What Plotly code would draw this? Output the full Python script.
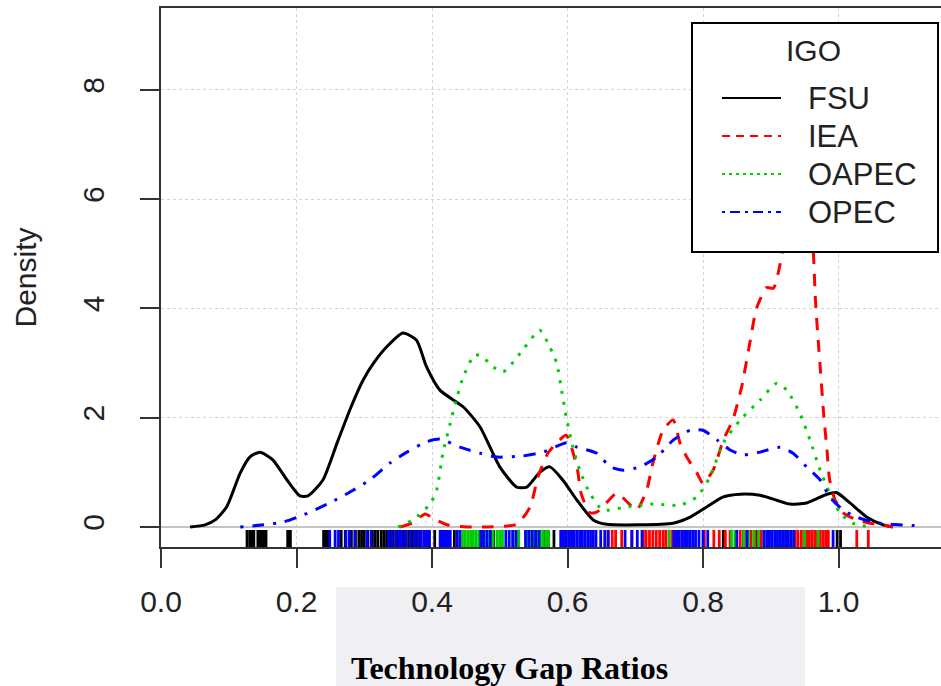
import plotly.graph_objects as go

# ---- density curves ----
fsu_x = [0.043, 0.065, 0.08, 0.097, 0.117, 0.131, 0.146, 0.165, 0.186, 0.205, 0.217, 0.239, 0.26, 0.279,
         0.298, 0.315, 0.335, 0.357, 0.377, 0.392, 0.412, 0.446, 0.471, 0.5, 0.525, 0.54, 0.559, 0.574,
         0.593, 0.614, 0.638, 0.658, 0.756, 0.781, 0.806, 0.83, 0.855, 0.884, 0.909, 0.928, 0.953, 0.983,
         0.997, 1.017, 1.042, 1.066, 1.08]
fsu_y = [0.0, 0.04, 0.13, 0.37, 0.99, 1.28, 1.37, 1.23, 0.86, 0.57, 0.57, 0.86, 1.54, 2.15,
         2.68, 3.02, 3.32, 3.55, 3.42, 2.93, 2.5, 2.2, 1.83, 1.1, 0.73, 0.73, 1.0, 1.1,
         0.86, 0.49, 0.13, 0.05, 0.07, 0.18, 0.37, 0.55, 0.6, 0.58, 0.49, 0.42, 0.44, 0.6,
         0.63, 0.44, 0.18, 0.04, 0.0]

iea_x = [0.353, 0.372, 0.39, 0.401, 0.422, 0.452, 0.476, 0.525, 0.545, 0.556, 0.571, 0.585, 0.598,
         0.614, 0.62, 0.633, 0.643, 0.658, 0.673, 0.688, 0.702, 0.717, 0.726, 0.741, 0.756, 0.766,
         0.776, 0.791, 0.8, 0.815, 0.83, 0.844, 0.857, 0.869, 0.879, 0.894, 0.904, 0.914, 0.93,
         0.945, 0.955, 0.963, 0.966, 0.97, 0.973, 0.978, 0.983, 0.987, 0.995, 1.007, 1.027, 1.046,
         1.066, 1.08]
iea_y = [0.0, 0.08, 0.24, 0.16, 0.04, 0.0, 0.0, 0.05, 0.37, 0.9, 1.35, 1.55, 1.68,
         1.1, 0.62, 0.26, 0.27, 0.45, 0.62, 0.46, 0.31, 0.68, 1.17, 1.77, 1.96, 1.54,
         1.28, 0.99, 0.8, 1.04, 1.59, 1.96, 2.56, 3.36, 4.0, 4.38, 4.37, 4.82, 6.0,
         6.8, 6.4, 5.0, 4.15, 3.42, 2.93, 2.08, 1.41, 0.86, 0.49, 0.26, 0.13, 0.07,
         0.04, 0.0]

oapec_x = [0.35, 0.372, 0.397, 0.407, 0.416, 0.427, 0.437, 0.446, 0.463, 0.475, 0.49, 0.505, 0.52,
           0.534, 0.559, 0.574, 0.584, 0.592, 0.599, 0.608, 0.618, 0.633, 0.652, 0.688, 0.726, 0.766,
           0.791, 0.81, 0.83, 0.855, 0.884, 0.909, 0.924, 0.943, 0.958, 0.973, 0.987, 1.002, 1.021,
           1.046]
oapec_y = [0.0, 0.13, 0.42, 0.68, 1.35, 1.9, 2.38, 2.74, 3.15, 3.11, 2.93, 2.84, 3.02,
           3.24, 3.6, 3.29, 3.0, 2.45, 1.96, 1.46, 1.04, 0.62, 0.31, 0.37, 0.42, 0.40,
           0.55, 0.91, 1.54, 1.96, 2.32, 2.63, 2.5, 2.08, 1.59, 1.04, 0.62, 0.26, 0.07,
           0.0]

opec_x = [0.117, 0.151, 0.18, 0.21, 0.249, 0.279, 0.308, 0.338, 0.363, 0.392, 0.412, 0.441, 0.471,
          0.496, 0.534, 0.564, 0.599, 0.614, 0.643, 0.663, 0.682, 0.707, 0.732, 0.756, 0.781, 0.8,
          0.821, 0.84, 0.859, 0.884, 0.914, 0.933, 0.953, 0.973, 0.987, 1.007, 1.027, 1.051, 1.076,
          1.125]
opec_y = [0.0, 0.04, 0.09, 0.22, 0.44, 0.64, 0.86, 1.17, 1.37, 1.56, 1.61, 1.46, 1.35,
          1.28, 1.3, 1.37, 1.54, 1.46, 1.35, 1.1, 1.04, 1.1, 1.28, 1.59, 1.77, 1.77,
          1.59, 1.41, 1.32, 1.37, 1.46, 1.35, 1.1, 0.86, 0.55, 0.31, 0.18, 0.09, 0.05,
          0.02]

# ---- rug observations ----
fsu_rug = [0.127, 0.131, 0.134, 0.137, 0.143, 0.146, 0.149, 0.152, 0.155, 0.187, 0.191, 0.240, 0.243,
           0.246, 0.266, 0.272, 0.281, 0.287, 0.292, 0.296, 0.300, 0.305, 0.312, 0.316, 0.320, 0.325,
           0.329, 0.333, 0.338, 0.343, 0.349, 0.353, 0.358, 0.362, 0.366, 0.371, 0.376, 0.383, 0.390,
           0.396, 0.404, 0.413, 0.419, 0.426, 0.433, 0.486, 0.491, 0.565, 0.572, 0.58, 0.83, 0.86,
           0.88, 0.9, 0.95, 0.998, 1.003]
iea_rug = [0.39, 0.596, 0.603, 0.607, 0.66, 0.666, 0.671, 0.68, 0.695, 0.712, 0.716, 0.721, 0.726,
           0.731, 0.736, 0.741, 0.745, 0.75, 0.755, 0.76, 0.764, 0.77, 0.802, 0.816, 0.824, 0.833,
           0.84, 0.848, 0.855, 0.861, 0.866, 0.871, 0.876, 0.881, 0.886, 0.9, 0.92, 0.936, 0.94,
           0.945, 0.949, 0.953, 0.957, 0.961, 0.965, 0.969, 0.973, 0.977, 0.981, 0.985, 1.027, 1.044]
oapec_rug = [0.445, 0.449, 0.453, 0.457, 0.461, 0.465, 0.469, 0.473, 0.477, 0.481, 0.485, 0.49, 0.496,
             0.5, 0.504, 0.52, 0.524, 0.528, 0.54, 0.544, 0.548, 0.552, 0.556, 0.56, 0.564, 0.568,
             0.572, 0.6, 0.75, 0.78, 0.842, 0.847, 0.86, 0.867, 0.875, 0.882, 0.9, 0.908, 0.915,
             0.922, 0.93, 0.95, 0.97]
opec_rug = [0.249, 0.257, 0.262, 0.273, 0.278, 0.286, 0.304, 0.31, 0.336, 0.341, 0.347, 0.352, 0.356,
            0.361, 0.368, 0.374, 0.379, 0.384, 0.388, 0.392, 0.396, 0.412, 0.415, 0.418, 0.421, 0.424,
            0.427, 0.437, 0.441, 0.472, 0.476, 0.481, 0.486, 0.509, 0.514, 0.519, 0.524, 0.538, 0.543,
            0.548, 0.553, 0.558, 0.59, 0.594, 0.598, 0.602, 0.606, 0.61, 0.614, 0.618, 0.622, 0.626,
            0.63, 0.634, 0.638, 0.642, 0.649, 0.655, 0.66, 0.685, 0.695, 0.703, 0.71, 0.757, 0.761,
            0.765, 0.769, 0.773, 0.777, 0.781, 0.785, 0.789, 0.794, 0.8, 0.807, 0.85, 0.865, 0.89,
            0.894, 0.898, 0.902, 0.906, 0.91, 0.914, 0.918, 0.922, 0.926, 0.93, 0.934, 0.992]

groups = ["FSU", "IEA", "OAPEC", "OPEC"]
colors = ["#000000", "#FF0000", "#00CD00", "#0000FF"]
dashes = ["solid", "12px,10px", "3px,8px", "3px,9px,12px,9px"]
legend_dashes = ["solid", "8px,6px", "3px,4px", "3px,5px,10px,5px"]
x_ticks = [0.0, 0.2, 0.4, 0.6, 0.8, 1.0]
x_ticktext = ["0.0", "0.2", "0.4", "0.6", "0.8", "1.0"]
y_ticks = [0, 2, 4, 6, 8]

curves_x = [fsu_x, iea_x, oapec_x, opec_x]
curves_y = [fsu_y, iea_y, oapec_y, opec_y]
rugs = [fsu_rug, iea_rug, oapec_rug, opec_rug]

Y_MIN, Y_MAX = -0.366, 9.497
RUG_TOP = -0.055

# plot-area geometry in pixels (used to place the legend box and captions)
L, T, W, H = 161, 8, 780, 539


def px(x):
    return (x - L) / W


def py(y):
    return (T + H - y) / H


fig = go.Figure()

# rugs
for g, c, r in zip(groups, colors, rugs):
    rx, ry = [], []
    for v in r:
        rx += [v, v, None]
        ry += [RUG_TOP, Y_MIN, None]
    fig.add_trace(go.Scatter(x=rx, y=ry, mode="lines", line=dict(color=c, width=2.8),
                             showlegend=False, hoverinfo="skip", name=g + " rug"))

# density curves
for g, c, d, xs, ys in zip(groups, colors, dashes, curves_x, curves_y):
    fig.add_trace(go.Scatter(x=xs, y=ys, mode="lines", name=g, showlegend=False,
                             line=dict(color=c, width=3, dash=d, shape="spline", smoothing=0.6)))

font_sans = "Liberation Sans, Arial, sans-serif"

shapes = [dict(type="rect", xref="paper", yref="paper",
               x0=px(336), x1=px(805), y0=py(690), y1=py(587),
               fillcolor="#EFEFF4", line=dict(width=0), layer="below"),
          # legend box
          dict(type="rect", xref="paper", yref="paper",
               x0=px(692), x1=px(938), y0=py(252), y1=py(23),
               fillcolor="white", line=dict(color="black", width=2), layer="above")]

annotations = [dict(text="<b>Technology Gap Ratios</b>", xref="paper", yref="paper",
                    x=px(509), y=py(668), xanchor="center", yanchor="middle", showarrow=False,
                    font=dict(family="Liberation Serif, Times New Roman, serif", size=32,
                              color="#000000")),
               dict(text="IGO", xref="paper", yref="paper", x=px(813), y=py(50),
                    xanchor="center", yanchor="middle", showarrow=False,
                    font=dict(family=font_sans, size=30, color="#222222"))]

row_y = [98, 136, 174, 212]
for g, c, d, ry in zip(groups, colors, legend_dashes, row_y):
    shapes.append(dict(type="line", xref="paper", yref="paper",
                       x0=px(722), x1=px(781), y0=py(ry), y1=py(ry),
                       line=dict(color=c, width=2, dash=d), layer="above"))
    annotations.append(dict(text=g, xref="paper", yref="paper", x=px(806), y=py(ry + 1),
                            xanchor="left", yanchor="middle", showarrow=False,
                            font=dict(family=font_sans, size=31, color="#222222")))

fig.update_layout(
    width=941, height=686,
    margin=dict(l=L, r=941 - L - W, t=T, b=686 - T - H),
    paper_bgcolor="white", plot_bgcolor="white",
    font=dict(family=font_sans, size=30, color="#222222"),
    showlegend=False,
    xaxis=dict(range=[0, 1.1513], tickmode="array", tickvals=x_ticks, ticktext=x_ticktext,
               ticks="outside", ticklen=19, tickwidth=2, tickcolor="#333333",
               showline=True, linecolor="#333333", linewidth=2, mirror=True,
               showgrid=True, gridcolor="#D3D3D3", gridwidth=1, griddash="dot",
               zeroline=False, ticklabelstandoff=8),
    yaxis=dict(range=[Y_MIN, Y_MAX], tickmode="array", tickvals=y_ticks,
               ticks="outside", ticklen=19, tickwidth=2, tickcolor="#333333", tickangle=-90,
               showline=True, linecolor="#333333", linewidth=2,
               showgrid=True, gridcolor="#D3D3D3", gridwidth=1, griddash="dot",
               zeroline=True, zerolinecolor="#C4C4C4", zerolinewidth=2,
               ticklabelstandoff=24,
               title=dict(text="Density", font=dict(size=30), standoff=32)),
    shapes=shapes,
    annotations=annotations,
)

fig.write_html("out.html")
